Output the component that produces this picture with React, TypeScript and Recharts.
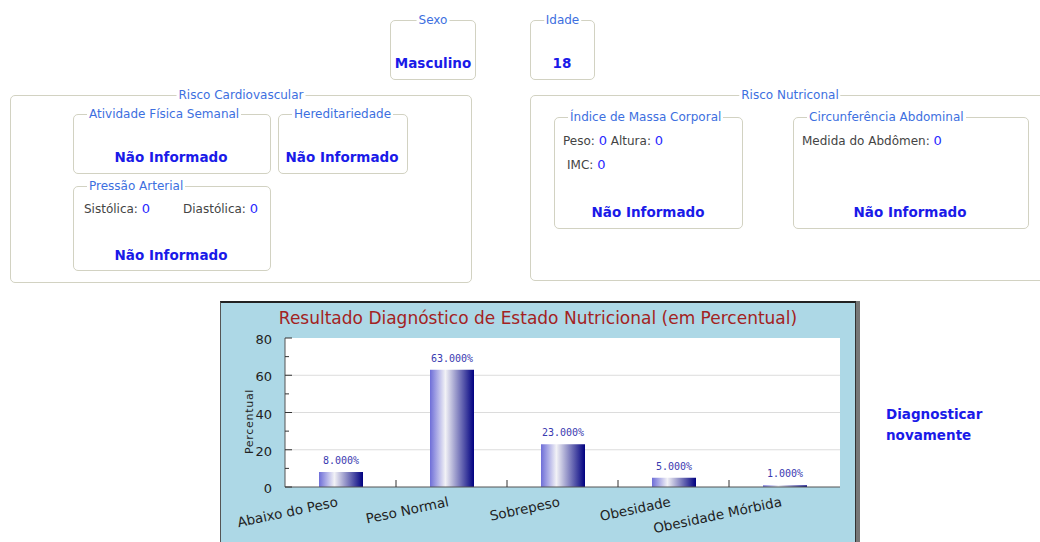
import React from 'react';
import { BarChart, Bar, XAxis, YAxis, CartesianGrid, LabelList, Label } from 'recharts';

const categories = ['Abaixo do Peso', 'Peso Normal', 'Sobrepeso', 'Obesidade', 'Obesidade Mórbida'];
const percentValues = [8, 63, 23, 5, 1];
const yTicks = [0, 10, 20, 30, 40, 50, 60, 70, 80];
const gridValues = [20, 40, 60];
const chartTitle = 'Resultado Diagnóstico de Estado Nutricional (em Percentual)';
const yAxisTitle = 'Percentual';

const data = categories.map((c, i) => ({ name: c, value: percentValues[i] }));

const FONT = "'DejaVu Sans', Verdana, sans-serif";
const BLUE = '#1a1ae8';
const LEGEND = '#3d6fe0';
const BORDER = '1px solid #d2d2c2';

function Field({ x, y, w, h, legend, center, indent = 13 }: any) {
  return (
    <div style={{ position: 'absolute', left: x, top: y, width: w, height: h, border: BORDER, borderRadius: 5, boxSizing: 'border-box' }}>
      <span style={{
        position: 'absolute', top: -7, left: center ? '50%' : indent,
        transform: center ? 'translateX(-50%)' : undefined,
        background: '#fff', padding: '0 2px', fontSize: 12, lineHeight: '13px', color: LEGEND, whiteSpace: 'nowrap'
      }}>{legend}</span>
    </div>
  );
}

function T({ x, y, center, children, style }: any) {
  return (
    <div style={{
      position: 'absolute', left: center ? x - 150 : x, width: center ? 300 : undefined, top: y - 8,
      lineHeight: '16px', whiteSpace: 'nowrap', textAlign: center ? 'center' : 'left', ...style
    }}>{children}</div>
  );
}

const big = { color: BLUE, fontWeight: 'bold', fontSize: 13.5 };
const lab = { color: '#444', fontSize: 12 };
const val = { color: '#2a2aff', fontSize: 13 };

const YTick = (props: any) => {
  const { x, y, payload } = props;
  const axisX = x + 13;
  const major = payload.value % 20 === 0;
  return (
    <g>
      <line x1={axisX} x2={axisX + (major ? 7 : 4)} y1={y} y2={y} stroke="#333" />
      {major && (
        <text x={x} y={y} dy={6} textAnchor="end" fontSize={13} fill="#222" fontFamily={FONT}>{payload.value}</text>
      )}
    </g>
  );
};

const XTick = (props: any) => {
  const { x, y, payload, index } = props;
  const half = payload && typeof payload.offset === 'number' ? payload.offset : 0;
  return (
    <g>
      {index < categories.length - 1 && half > 0 && (
        <line x1={x + half} x2={x + half} y1={y} y2={y - 7} stroke="#333" />
      )}
      <text transform={`translate(${x - 2},${y + 19}) rotate(-12)`} textAnchor="end" fontSize={13.5} fill="#222" fontFamily={FONT}>
        {payload.value}
      </text>
    </g>
  );
};

const YLabel = (props: any) => {
  const vb = props.viewBox || {};
  const cx = vb.x + 28;
  const cy = vb.y + vb.height / 2 + 9;
  return (
    <text transform={`translate(${cx},${cy}) rotate(-90)`} textAnchor="middle" dy={4} fontSize={11} letterSpacing={0.7} fill="#222" fontFamily={FONT}>
      {yAxisTitle}
    </text>
  );
};

export default function App() {
  return (
    <div style={{ position: 'absolute', left: 0, top: 0, width: 1040, height: 542, overflow: 'hidden', background: '#fff', fontFamily: FONT }}>
      <Field x={390} y={20} w={86} h={60} legend="Sexo" center />
      <T x={433} y={63} center style={big}>Masculino</T>
      <Field x={530} y={20} w={65} h={60} legend="Idade" center />
      <T x={562} y={63} center style={big}>18</T>

      <Field x={10} y={95} w={462} h={188} legend="Risco Cardiovascular" center />
      <Field x={73} y={114} w={198} h={60} legend="Atividade Física Semanal" />
      <T x={171} y={157} center style={big}>Não Informado</T>
      <Field x={278} y={114} w={130} h={60} legend="Hereditariedade" />
      <T x={342} y={157} center style={big}>Não Informado</T>
      <Field x={73} y={186} w={198} h={85} legend="Pressão Arterial" />
      <T x={84} y={209} style={lab}>Sistólica: <span style={val}>0</span></T>
      <T x={183} y={209} style={lab}>Diastólica: <span style={val}>0</span></T>
      <T x={171} y={255} center style={big}>Não Informado</T>

      <Field x={530} y={95} w={520} h={186} legend="Risco Nutriconal" center />
      <Field x={554} y={117} w={189} h={112} legend="Índice de Massa Corporal" />
      <T x={563} y={141} style={lab}>Peso: <span style={val}>0</span> Altura: <span style={val}>0</span></T>
      <T x={567} y={165} style={lab}>IMC: <span style={val}>0</span></T>
      <T x={648} y={212} center style={big}>Não Informado</T>
      <Field x={793} y={117} w={236} h={112} legend="Circunferência Abdominal" />
      <T x={802} y={141} style={lab}>Medida do Abdômen: <span style={val}>0</span></T>
      <T x={910} y={212} center style={big}>Não Informado</T>

      <div style={{ position: 'absolute', left: 886, top: 404, color: BLUE, fontWeight: 'bold', fontSize: 13.5, lineHeight: '21px' }}>
        Diagnosticar<br />novamente
      </div>

      <div style={{
        position: 'absolute', left: 220, top: 301, width: 636, height: 250, boxSizing: 'border-box',
        background: '#add8e6', borderTop: '2px solid #222', borderLeft: '1px solid #555', borderRight: '1px solid #333',
        boxShadow: '4px 0 0 #777'
      }}>
        <div style={{ position: 'absolute', left: 0, top: 5, width: 634, textAlign: 'center', fontSize: 17, lineHeight: '20px', color: '#a32222' }}>
          {chartTitle}
        </div>
        <div style={{ position: 'absolute', left: 0, top: 0 }}>
          <BarChart width={634} height={238} data={data} margin={{ top: 35, right: 15, left: 0, bottom: 0 }} barCategoryGap="30%">
            <defs>
              <linearGradient id="barGrad" x1="0" y1="0" x2="1" y2="0">
                <stop offset="0%" stopColor="#6e6ed8" />
                <stop offset="35%" stopColor="#f2f2f6" />
                <stop offset="100%" stopColor="#000080" />
              </linearGradient>
            </defs>
            <CartesianGrid vertical={false} horizontalValues={gridValues} stroke="#dcdcdc" fill="#ffffff" fillOpacity={1} />
            <XAxis dataKey="name" interval={0} tickSize={0} tickMargin={0} height={54} axisLine={{ stroke: '#555' }} tick={<XTick />} />
            <YAxis type="number" domain={[0, 80]} ticks={yTicks} interval={0} width={64} tickSize={0} tickMargin={13}
              axisLine={{ stroke: '#555' }} tick={<YTick />}>
              <Label content={<YLabel />} />
            </YAxis>
            <Bar dataKey="value" fill="url(#barGrad)" barSize={44} isAnimationActive={false}>
              <LabelList dataKey="value" position="top" offset={8} fontSize={10} fill="#3a3ab0" fontFamily="'DejaVu Sans Mono', monospace"
                formatter={(v: any) => `${Number(v).toFixed(3)}%`} />
            </Bar>
          </BarChart>
        </div>
      </div>
    </div>
  );
}
